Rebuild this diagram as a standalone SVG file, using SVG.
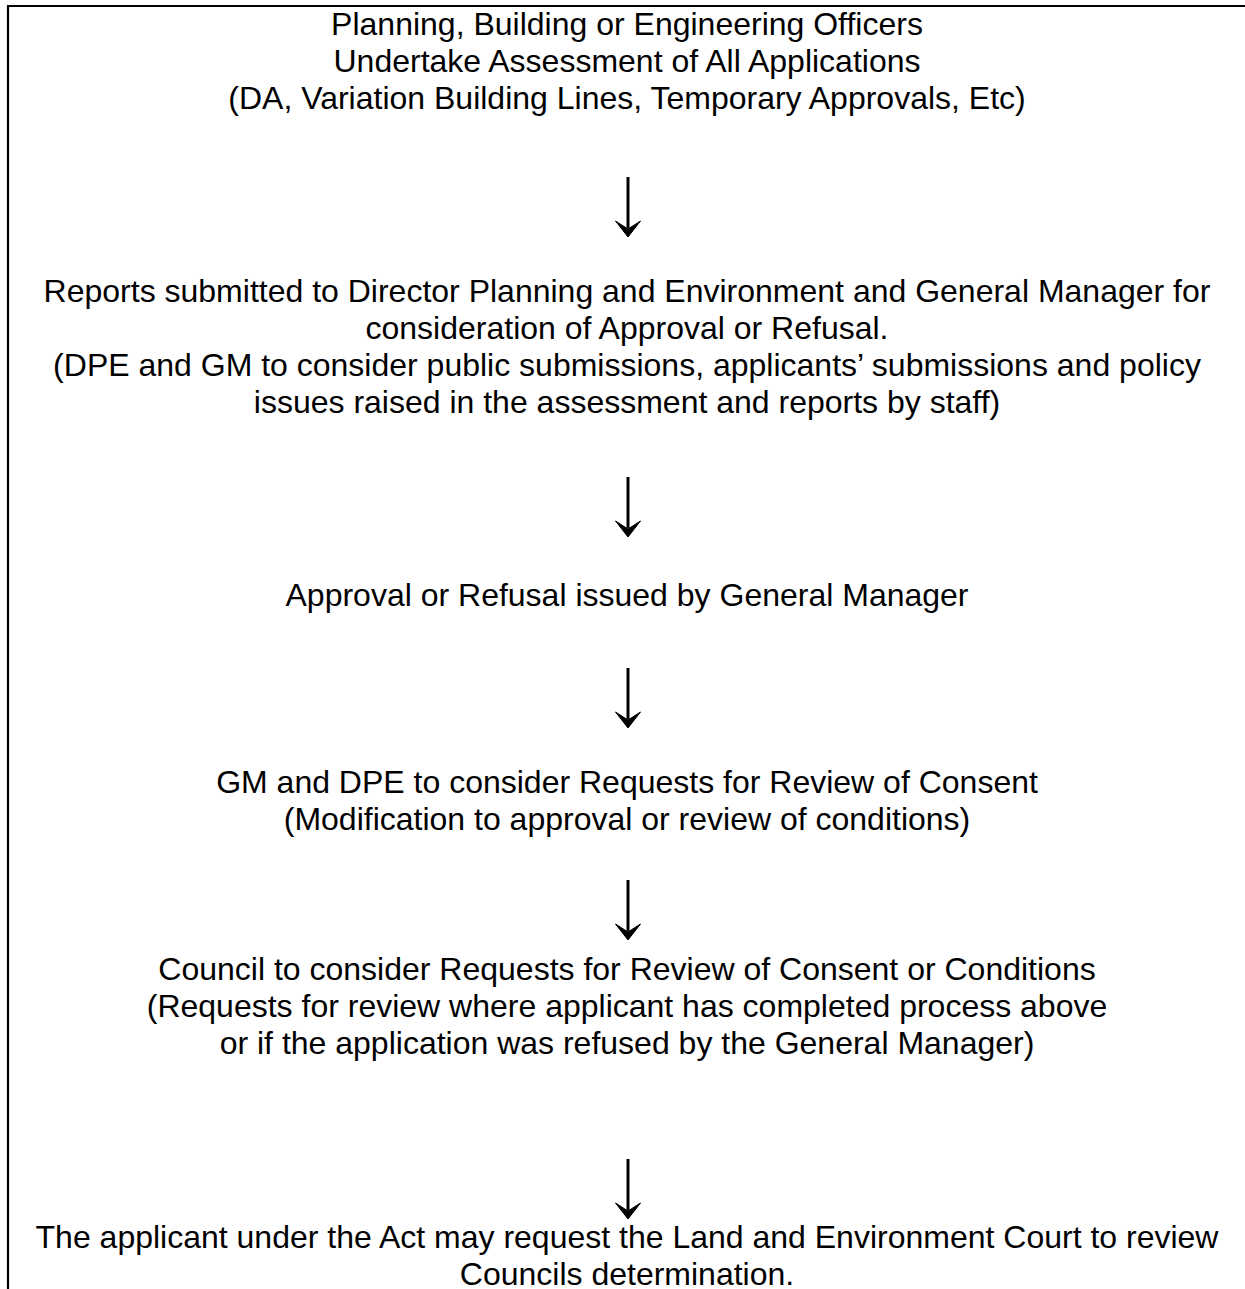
<svg xmlns="http://www.w3.org/2000/svg" width="1245" height="1289" viewBox="0 0 1245 1289">
<defs>
<style>
text{font-family:"Liberation Sans",Arial,sans-serif;font-size:32px;fill:#000;text-anchor:middle}
.border{stroke:#000;stroke-width:2.2;fill:none}
.shaft{stroke:#000;stroke-width:3;fill:none}
.head{fill:#000;stroke:#000;stroke-width:1;stroke-linejoin:miter}
</style>
</defs>
<rect width="1245" height="1289" fill="#fff"/>
<g id="frame">
<line class="border" x1="7" y1="6" x2="1245" y2="6"/>
<line class="border" x1="8" y1="5" x2="8" y2="1289"/>
</g>
<g id="node1">
<text x="627" y="35">Planning, Building or Engineering Officers</text>
<text x="627" y="72">Undertake Assessment of All Applications</text>
<text x="627" y="109">(DA, Variation Building Lines, Temporary Approvals, Etc)</text>
</g>
<g id="node2">
<text x="627" y="302">Reports submitted to Director Planning and Environment and General Manager for</text>
<text x="627" y="339">consideration of Approval or Refusal.</text>
<text x="627" y="376">(DPE and GM to consider public submissions, applicants’ submissions and policy</text>
<text x="627" y="413">issues raised in the assessment and reports by staff)</text>
</g>
<g id="node3">
<text x="627" y="606">Approval or Refusal issued by General Manager</text>
</g>
<g id="node4">
<text x="627" y="793">GM and DPE to consider Requests for Review of Consent</text>
<text x="627" y="830">(Modification to approval or review of conditions)</text>
</g>
<g id="node5">
<text x="627" y="980">Council to consider Requests for Review of Consent or Conditions</text>
<text x="627" y="1017">(Requests for review where applicant has completed process above</text>
<text x="627" y="1054">or if the application was refused by the General Manager)</text>
</g>
<g id="node6">
<text x="627" y="1248">The applicant under the Act may request the Land and Environment Court to review</text>
<text x="627" y="1285">Councils determination.</text>
</g>
<g id="connectors">
<g transform="translate(628,237)"><line class="shaft" x1="0" y1="-60" x2="0" y2="-9"/><path class="head" d="M-12.5,-16 L0,0 L12.5,-16 L0,-8 Z"/></g>
<g transform="translate(628,537)"><line class="shaft" x1="0" y1="-60" x2="0" y2="-9"/><path class="head" d="M-12.5,-16 L0,0 L12.5,-16 L0,-8 Z"/></g>
<g transform="translate(628,728)"><line class="shaft" x1="0" y1="-60" x2="0" y2="-9"/><path class="head" d="M-12.5,-16 L0,0 L12.5,-16 L0,-8 Z"/></g>
<g transform="translate(628,940)"><line class="shaft" x1="0" y1="-60" x2="0" y2="-9"/><path class="head" d="M-12.5,-16 L0,0 L12.5,-16 L0,-8 Z"/></g>
<g transform="translate(628,1219)"><line class="shaft" x1="0" y1="-60" x2="0" y2="-9"/><path class="head" d="M-12.5,-16 L0,0 L12.5,-16 L0,-8 Z"/></g>
</g>
</svg>
